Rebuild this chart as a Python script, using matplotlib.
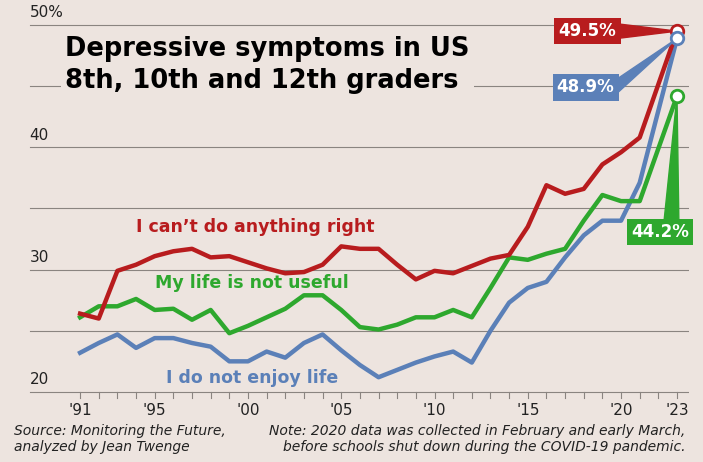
import matplotlib.pyplot as plt
from matplotlib.patches import Polygon

years = list(range(1991, 2022)) + [2023]
cant_do = [26.4, 26.0, 29.9, 30.4, 31.1, 31.5, 31.7, 31.0, 31.1, 30.6, 30.1, 29.7, 29.8, 30.4,
           31.9, 31.7, 31.7, 30.4, 29.2, 29.9, 29.7, 30.3, 30.9, 31.2, 33.5, 36.9, 36.2, 36.6,
           38.6, 39.6, 40.8, 49.5]
not_useful = [26.1, 27.0, 27.0, 27.6, 26.7, 26.8, 25.9, 26.7, 24.8, 25.4, 26.1, 26.8, 27.9, 27.9,
              26.7, 25.3, 25.1, 25.5, 26.1, 26.1, 26.7, 26.1, 28.5, 31.0, 30.8, 31.3, 31.7, 34.0,
              36.1, 35.6, 35.6, 44.2]
no_enjoy = [23.2, 24.0, 24.7, 23.6, 24.4, 24.4, 24.0, 23.7, 22.5, 22.5, 23.3, 22.8, 24.0, 24.7,
            23.4, 22.2, 21.2, 21.8, 22.4, 22.9, 23.3, 22.4, 25.0, 27.3, 28.5, 29.0, 31.0, 32.8,
            34.0, 37.1, 37.1, 48.9]
# 2021 and 2023 only in the last two entries
not_useful = not_useful[:30] + [35.6, 44.2]
no_enjoy = no_enjoy[:29] + [34.0, 37.1, 48.9]
tick_labels = {1991: "'91", 1995: "'95", 2000: "'00", 2005: "'05", 2010: "'10", 2015: "'15",
               2020: "'20", 2023: "'23"}

bg = '#ede4df'
red, green, blue = '#b81c1e', '#2ea82e', '#5b80b8'

fig = plt.figure(figsize=(7.03, 4.62), dpi=100, facecolor=bg)
ax = fig.add_axes([0.02, 0.13, 0.96, 0.85], facecolor=bg)
ax.set_xlim(1987.46, 2023.64)
ax.set_ylim(19.18, 51.29)
for s in ax.spines.values():
    s.set_visible(False)
ax.set_yticks([])
ax.set_xticks([])

for v in [20, 25, 30, 35, 40, 45, 50]:
    ax.plot([1988.3, 2023.6], [v, v], color='#8a8480', lw=0.8, zorder=1)
for v, t in [(20, '20'), (30, '30'), (40, '40'), (50, '50%')]:
    ax.text(1988.3, v + 1.0, t, fontsize=11, color='#222', va='center', ha='left')

for y in range(1991, 2024):
    ax.plot([y, y], [20, 19.5], color='#8a8480', lw=0.8, clip_on=False)
for y, t in tick_labels.items():
    ax.text(y, 18.5, t, fontsize=11, ha='center', va='center', color='#222')

ax.plot(years, no_enjoy, color=blue, lw=3.2, zorder=3)
ax.plot(years, not_useful, color=green, lw=3.2, zorder=4)
ax.plot(years, cant_do, color=red, lw=3.2, zorder=5)

ax.text(1990.2, 46.7, 'Depressive symptoms in US\n8th, 10th and 12th graders', fontsize=18.5,
        fontweight='bold', va='center', ha='left', linespacing=1.3, zorder=6,
        bbox=dict(facecolor=bg, edgecolor='none', pad=3))

ax.text(2000.4, 33.5, "I can\u2019t do anything right", color=red, fontsize=12.5, fontweight='bold',
        ha='center', va='center')
ax.text(2000.2, 28.9, 'My life is not useful', color=green, fontsize=12.5, fontweight='bold',
        ha='center', va='center')
ax.text(2000.2, 21.1, 'I do not enjoy life', color=blue, fontsize=12.5, fontweight='bold',
        ha='center', va='center')

for val, col, bx, by, vertical in [(cant_do[-1], red, 2018.2, 49.5, False),
                                   (no_enjoy[-1], blue, 2018.1, 44.9, False),
                                   (not_useful[-1], green, 2022.1, 33.1, True)]:
    if vertical:
        wedge = [(bx + 0.2, by + 0.8), (bx + 1.0, by + 0.8), (2023, val)]
    else:
        wedge = [(bx + 1.6, by + 0.6), (bx + 1.6, by - 0.6), (2023, val)]
    ax.add_patch(Polygon(wedge, closed=True, color=col, zorder=6))
    ax.text(bx, by, f'{val}%', color='white', fontsize=12, fontweight='bold', ha='center',
            va='center', zorder=7, bbox=dict(facecolor=col, edgecolor='none', pad=3))
    ax.plot(2023, val, 'o', ms=9, mfc='white', mec=col, mew=2, zorder=8)

fig.text(0.02, 0.05, 'Source: Monitoring the Future,\nanalyzed by Jean Twenge', fontsize=10,
         style='italic', va='center', ha='left', color='#222')
fig.text(0.975, 0.05, 'Note: 2020 data was collected in February and early March,\n'
         'before schools shut down during the COVID-19 pandemic.', fontsize=10,
         style='italic', va='center', ha='right', color='#222')

fig.savefig('out.png', dpi=100, facecolor=bg)
